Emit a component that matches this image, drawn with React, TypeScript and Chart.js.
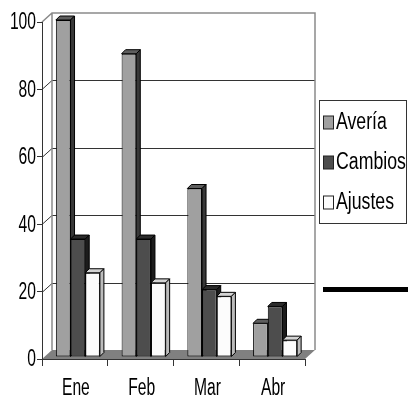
import { useEffect, useRef } from 'react';
import { Chart, registerables } from 'chart.js';

Chart.register(...registerables);

// Data
const categories = ['Ene', 'Feb', 'Mar', 'Abr'];
const seriesNames = ['Avería', 'Cambios', 'Ajustes'];
const averia = [100, 90, 50, 10];
const cambios = [35, 35, 20, 15];
const ajustes = [25, 22, 18, 5];
const yMax = 100;
const yStep = 20;

const FONT = "'Liberation Sans', Arial, sans-serif";
const AXIS_SIZE = 23;
const AXIS_NARROW = 0.68; // horizontal squeeze for a condensed look on axis text
const LEGEND_SIZE = 23;
const LEGEND_NARROW = 0.77;

// Face / top / side shades for each series
const faceColors = ['#a0a0a0', '#4d4d4d', '#fcfcfc'];
const topColors = ['#5e5e5e', '#2b2b2b', '#d4d4d4'];
const sideColors = ['#383838', '#1c1c1c', '#bcbcbc'];

const WALL = { dx: 10, dy: 9 }; // depth of the floor / back wall
const BAR = { dx: 4, dy: 4 }; // depth of each column
const SHIFT = { dx: 3, dy: 2 }; // columns sit slightly behind the front axis

const poly = (ctx: CanvasRenderingContext2D, pts: number[][]) => {
  ctx.beginPath();
  ctx.moveTo(pts[0][0], pts[0][1]);
  for (let i = 1; i < pts.length; i++) ctx.lineTo(pts[i][0], pts[i][1]);
  ctx.closePath();
};

const squeezedText = (
  ctx: CanvasRenderingContext2D,
  text: string,
  x: number,
  y: number,
  sx: number,
) => {
  ctx.save();
  ctx.translate(x, y);
  ctx.scale(sx, 1);
  ctx.fillText(text, 0, 0);
  ctx.restore();
};

const threeD = {
  id: 'threeD',
  beforeDraw(chart: any) {
    const { ctx, chartArea: a } = chart;
    const y = chart.scales.y;
    const y0 = y.getPixelForValue(0);
    const yTop = y.getPixelForValue(yMax);
    ctx.save();
    // floor
    ctx.fillStyle = '#808080';
    poly(ctx, [
      [a.left, y0],
      [a.right, y0],
      [a.right + WALL.dx, y0 - WALL.dy],
      [a.left + WALL.dx, y0 - WALL.dy],
    ]);
    ctx.fill();
    // gridlines across the side and back walls
    ctx.strokeStyle = '#333';
    ctx.lineWidth = 1;
    for (let v = yStep; v < yMax; v += yStep) {
      const yf = Math.round(y.getPixelForValue(v)) + 0.5;
      ctx.beginPath();
      ctx.moveTo(a.left, yf);
      ctx.lineTo(a.left + WALL.dx, yf - WALL.dy);
      ctx.lineTo(a.right + WALL.dx, yf - WALL.dy);
      ctx.stroke();
    }
    // wall outline
    ctx.strokeStyle = '#8a8a8a';
    ctx.lineWidth = 1.5;
    ctx.beginPath();
    ctx.moveTo(a.left, yTop);
    ctx.lineTo(a.left + WALL.dx, yTop - WALL.dy);
    ctx.lineTo(a.right + WALL.dx, yTop - WALL.dy);
    ctx.lineTo(a.right + WALL.dx, y0 - WALL.dy);
    ctx.moveTo(a.left + WALL.dx, yTop - WALL.dy);
    ctx.lineTo(a.left + WALL.dx, y0 - WALL.dy);
    ctx.stroke();
    ctx.restore();
  },
  // columns are painted below, series by series from left to right,
  // so each column's face covers the side of its left neighbour
  beforeDatasetDraw() {
    return false;
  },
  afterDatasetsDraw(chart: any) {
    const { ctx } = chart;
    ctx.save();
    ctx.translate(SHIFT.dx, -SHIFT.dy);
    chart.data.datasets.forEach((_ds: any, i: number) => {
      const meta = chart.getDatasetMeta(i);
      meta.data.forEach((el: any) => {
        el.draw(ctx);
        const { x, y, base, width } = el.getProps(['x', 'y', 'base', 'width'], true);
        const L = x - width / 2;
        const R = x + width / 2;
        ctx.strokeStyle = '#000';
        ctx.lineWidth = 1;
        // top
        ctx.fillStyle = topColors[i];
        poly(ctx, [
          [L, y],
          [L + BAR.dx, y - BAR.dy],
          [R + BAR.dx, y - BAR.dy],
          [R, y],
        ]);
        ctx.fill();
        ctx.stroke();
        // right side
        ctx.fillStyle = sideColors[i];
        poly(ctx, [
          [R, y],
          [R + BAR.dx, y - BAR.dy],
          [R + BAR.dx, base - BAR.dy],
          [R, base],
        ]);
        ctx.fill();
        ctx.stroke();
      });
    });
    ctx.restore();
  },
  afterDraw(chart: any) {
    const { ctx } = chart;
    const xs = chart.scales.x;
    const ys = chart.scales.y;
    ctx.save();
    ctx.fillStyle = '#000';
    ctx.font = `${AXIS_SIZE}px ${FONT}`;
    ctx.textBaseline = 'middle';
    // value axis labels
    ctx.textAlign = 'right';
    ys.ticks.forEach((t: any) => {
      squeezedText(ctx, String(t.value), 36, ys.getPixelForValue(t.value) + 1, AXIS_NARROW);
    });
    // category labels
    ctx.textAlign = 'center';
    xs.getLabels().forEach((lab: string, i: number) => {
      squeezedText(ctx, lab, xs.getPixelForTick(i) + 1, 389, AXIS_NARROW);
    });

    // legend
    const bx = 319.5, by = 100.5, bw = 87, bh = 123;
    ctx.fillStyle = '#fff';
    ctx.fillRect(bx, by, bw, bh);
    ctx.strokeStyle = '#333';
    ctx.lineWidth = 1;
    ctx.strokeRect(bx, by, bw, bh);
    ctx.font = `${LEGEND_SIZE}px ${FONT}`;
    ctx.textAlign = 'left';
    chart.data.datasets.forEach((ds: any, k: number) => {
      const cy = 122 + k * 40;
      ctx.fillStyle = ds.backgroundColor;
      ctx.fillRect(323.5, cy - 6, 10, 13);
      ctx.strokeStyle = '#222';
      ctx.strokeRect(323.5, cy - 6, 10, 13);
      ctx.fillStyle = '#000';
      squeezedText(ctx, ds.label, 336, cy + 1, LEGEND_NARROW);
    });
    // heavy rule at the right
    ctx.fillStyle = '#000';
    ctx.fillRect(323, 287, 85, 5);
    ctx.restore();
  },
};

export default function App() {
  const ref = useRef<HTMLCanvasElement>(null);

  useEffect(() => {
    if (!ref.current) return;
    const series = [averia, cambios, ajustes];
    const chart = new Chart(ref.current, {
      type: 'bar',
      data: {
        labels: categories,
        datasets: series.map((d, i) => ({
          label: seriesNames[i],
          data: d,
          backgroundColor: faceColors[i],
          borderColor: '#000',
          borderWidth: 1,
          borderSkipped: false,
          clip: false,
          categoryPercentage: 0.67,
          barPercentage: 1,
        })),
      },
      options: {
        responsive: false,
        animation: false,
        devicePixelRatio: 1,
        layout: { padding: { top: 22, right: 103, left: 0, bottom: 0 } },
        plugins: { legend: { display: false }, tooltip: { enabled: false } },
        scales: {
          x: {
            grid: { display: true, drawOnChartArea: false, drawTicks: true, tickLength: 7, color: '#333', offset: true },
            border: { display: true, color: '#333' },
            ticks: { display: false },
            afterFit: (s: any) => {
              s.height = 44;
            },
          },
          y: {
            min: 0,
            max: yMax,
            ticks: { display: false, stepSize: yStep },
            grid: { display: true, drawOnChartArea: false, drawTicks: true, tickLength: 5, color: '#333' },
            border: { display: true, color: '#333' },
            afterFit: (s: any) => {
              s.width = 42;
            },
          },
        },
      },
      plugins: [threeD],
    } as any);
    return () => chart.destroy();
  }, []);

  return (
    <div style={{ position: 'absolute', left: 0, top: 0, width: 408, height: 403, background: '#fff' }}>
      <canvas ref={ref} width={408} height={403} style={{ display: 'block' }} />
    </div>
  );
}
